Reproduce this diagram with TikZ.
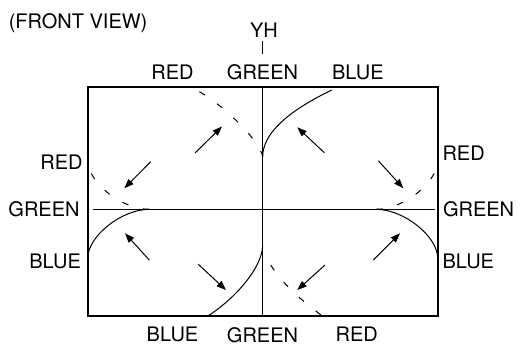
\documentclass[tikz,border=0pt]{standalone}
\usepackage{fontspec}
\setmainfont{TeX Gyre Heros}
\usetikzlibrary{arrows.meta,positioning}

\begin{document}
\begin{tikzpicture}[
        x=1pt, y=-1pt,
        lbl/.style={font=\fontsize{20}{24}\selectfont, inner sep=0pt},
        frame/.style={draw, line width=1.9pt},
        guide/.style={line width=1pt},
        beam/.style={line width=1pt},
        redbeam/.style={line width=1pt, dash pattern=on 6.5pt off 15pt},
        arrow/.style={-{Triangle[length=9.5pt, width=7pt]}, line width=1pt}
    ]
        \useasboundingbox (0,0) rectangle (521,346);

        % Frame and axes
        \coordinate (nw) at (87.7,86.7);
        \coordinate (se) at (437.7,316);
        \draw[frame] (nw) rectangle (se);
        \coordinate (vtop) at (262.7,86.7);
        \coordinate (vbot) at (262.7,316);
        \coordinate (hl) at (92.7,209.3);
        \coordinate (hr) at (435,209.3);
        \draw[guide] (vtop) -- (vbot);
        \draw[guide] (hl) -- (hr);

        % Title and YH mark
        \node[lbl, anchor=base west] (title) at (8.6,28.3) {(FRONT VIEW)};
        \node[lbl, anchor=base] (yh) at (264,37.3) {YH};
        \coordinate (tick1) at (262.7,41);
        \coordinate (tick2) at (262.7,54);
        \draw[guide] (tick1) -- (tick2);

        % Labels
        \node[lbl, anchor=base] (topred) at (172.5,79) {RED};
        \node[lbl, anchor=base] (topgreen) at (262.5,79) {GREEN};
        \node[lbl, anchor=base] (topblue) at (357.8,79) {BLUE};
        \node[lbl, anchor=base east] (leftred) at (82.8,169.3) {RED};
        \node[lbl, anchor=base east] (leftgreen) at (79.8,216) {GREEN};
        \node[lbl, anchor=base east] (leftblue) at (81.1,268.3) {BLUE};
        \node[lbl, anchor=base west] (rightred) at (442.3,160) {RED};
        \node[lbl, anchor=base west] (rightgreen) at (442.8,216) {GREEN};
        \node[lbl, anchor=base west] (rightblue) at (442.3,268) {BLUE};
        \node[lbl, anchor=base] (botblue) at (172.5,341) {BLUE};
        \node[lbl, anchor=base] (botgreen) at (262.5,342) {GREEN};
        \node[lbl, anchor=base] (botred) at (356.7,341) {RED};

        % Blue (solid) and red (dashed) lines
        \draw[beam] (262.7,156.7) .. controls (262.7,134.5) and (285.7,112.3) .. (331.7,90);
        \draw[redbeam] (262.7,157) .. controls (260.5,140) and (217,98.7) .. (192,88);
        \draw[beam] (262.7,246.7) .. controls (261,268) and (237,297) .. (208.3,315.7);
        \draw[redbeam] (270.7,265) .. controls (283.4,285.2) and (302.5,301.1) .. (321.7,315.5);
        \draw[beam] (87.7,258.3) .. controls (87.7,236.3) and (121.6,209.3) .. (149.3,209.3);
        \draw[redbeam] (149.3,209.3) .. controls (121.6,209.3) and (87.7,182.3) .. (87.7,160.3);
        \draw[beam] (437.7,258.3) .. controls (437.7,236.3) and (403.8,209.3) .. (376.1,209.3);
        \draw[redbeam] (376.1,209.3) .. controls (403.8,209.3) and (437.7,182.3) .. (437.7,160.3);

        % Arrows
        \foreach \n/\xa/\ya/\xb/\yb in {1/195/153/222/126.5, 2/324.3/152.7/297.3/127.3,
                3/150.7/161.7/124.3/188.3, 4/378.3/160.7/403.3/188.3,
                5/149.3/260/125/233.3, 6/373.3/260/400/233.3,
                7/198.3/264.3/226/290, 8/325/265/297.3/290} {
            \coordinate (tail\n) at (\xa,\ya);
            \coordinate (tip\n) at (\xb,\yb);
            \draw[arrow] (tail\n) -- (tip\n);
        }

\end{tikzpicture}
\end{document}
